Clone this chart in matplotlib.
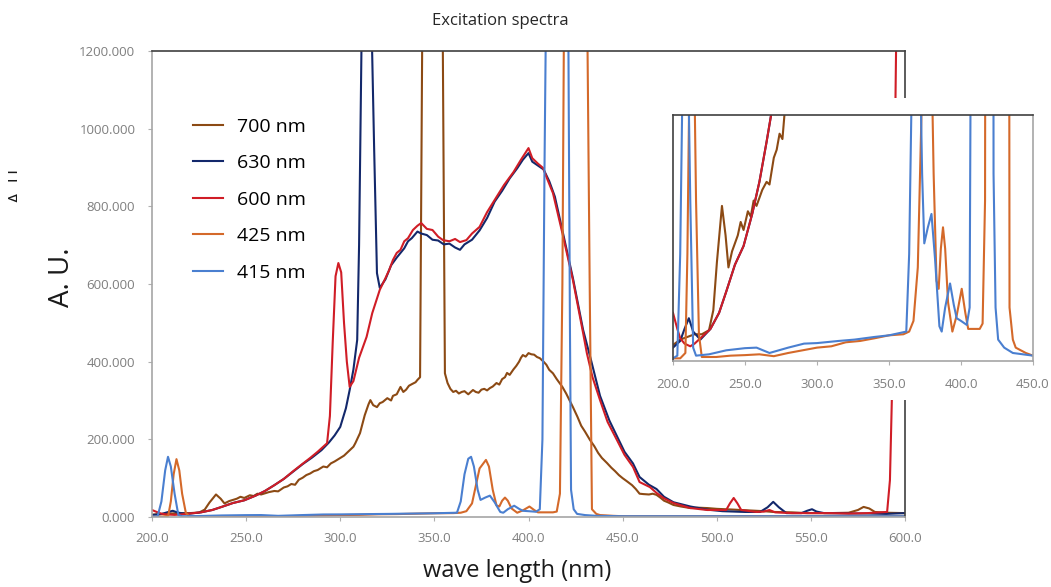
import matplotlib
matplotlib.use("Agg")
import matplotlib.pyplot as plt
from matplotlib.patches import Rectangle

plt.rcParams['font.family'] = ['Open Sans', 'DejaVu Sans']

# 700 nm emission
wl_700 = [200, 205, 210, 215, 220, 225, 228, 230.5, 234, 236.5, 238.5, 241, 243, 245, 247, 249,
          252, 254, 256, 258, 260, 262, 265, 267, 270, 272, 274, 276, 278, 280, 282, 284, 286,
          288, 291, 293, 295, 297, 300, 302, 305, 307, 308, 310.5, 313, 315, 316, 317.5, 319.5,
          321, 322.5, 324, 325, 327, 328, 330, 332, 333.5, 335, 336.5, 338, 340, 341, 342.4,
          343.5, 349, 354.5, 355.6, 357, 358.5, 360, 361.5, 363, 364.5, 366, 368, 370.5, 372,
          373.5, 375, 376.5, 378, 379.5, 381, 383, 384.5, 386, 387.5, 388.6, 390, 392, 393.5, 395,
          396, 397, 398.5, 400, 401.5, 403, 404.5, 406, 408, 409.5, 411, 413, 415, 418, 420, 423.6,
          426, 428, 430, 432.7, 435, 437, 439, 441.7, 444, 446, 448, 450, 452, 455, 457, 459, 461,
          464, 466, 468, 470, 472, 474, 477, 481, 486, 490, 495, 500, 505, 509, 513, 520, 525,
          530, 540, 548, 560, 570, 575, 578, 581, 584, 590, 600]
au_700 = [6, 8, 9, 10, 10, 11.5, 19, 37, 58, 47, 35, 41, 44, 47, 52, 49,
          56, 54, 60, 58, 61, 64, 67, 66, 76, 79, 85, 83, 96, 101, 108, 112, 118,
          121, 130, 128, 138, 143, 152, 158, 172, 181, 190, 216, 262, 290, 301, 288, 283,
          293, 296, 302, 306, 300, 312, 316, 335, 322, 328, 338, 342, 347, 353, 360,
          1200, 1600, 1200, 370, 345, 330, 322, 325, 318, 322, 324, 316, 327, 322,
          320, 328, 330, 326, 332, 336, 345, 341, 355, 360, 371, 366, 380, 389, 400,
          410, 417, 413, 422, 419, 418, 412, 409, 400, 392, 379, 370, 355, 335, 318, 283,
          258, 235, 220, 198, 182, 165, 152, 139, 127, 118, 108, 100, 93, 82, 72, 60, 59,
          58, 60, 57, 50, 42, 38, 31, 27, 23, 24, 23, 21, 20, 19, 18, 16, 15,
          13, 12, 10, 10, 11, 18, 26, 22, 13, 11, 10]

# 630 nm emission
wl_630 = [200, 205, 208, 211, 214, 219, 226, 232, 237, 243, 249, 255, 260, 265, 270, 275, 280,
          285, 290, 294, 297, 300, 303, 305, 307, 309, 310, 311.5, 314, 316.5, 318, 319.5, 321,
          324, 327, 330, 332, 334, 336, 338, 341, 343, 346, 349, 352, 355, 358, 361, 363.6, 366,
          370, 374, 378, 382, 386, 390, 394, 397, 400, 402, 405, 408, 411, 414, 418, 423.6, 429,
          433, 438, 443, 447, 451, 455.5, 459, 464, 468, 472, 477, 486, 495, 503, 515, 523, 527,
          530, 533, 537, 545, 548, 550.6, 553, 557, 570, 580, 590, 600]
au_630 = [5, 7.5, 12, 16, 11, 8, 12, 18, 26, 36, 43, 55, 67, 82, 98, 117, 136,
          153, 172, 192, 210, 232, 280, 327, 380, 456, 700, 1300, 1600, 1300, 950, 628, 590,
          612, 648, 668, 680, 692, 710, 718, 735, 730, 726, 714, 712, 702, 704, 694, 688, 702,
          714, 738, 770, 812, 840, 872, 898, 920, 937, 915, 905, 895, 865, 825, 738, 615, 482,
          408, 312, 248, 208, 168, 138, 103, 83, 72, 52, 38, 27, 19, 15, 13, 13, 25,
          39, 25, 10, 10, 16, 20, 14, 10, 9, 9, 8, 10]

# 600 nm emission
wl_600 = [200, 203, 205, 208, 212, 215, 219, 226, 232, 237, 243, 249, 255, 260, 265, 270, 275,
          280, 284, 288, 293, 294.5, 296, 297.5, 299, 300.5, 302, 303.5, 305, 307, 310, 314, 317,
          321, 324, 326, 328, 330, 332, 334, 336, 338.6, 341, 343, 346, 349, 352, 354.6, 358,
          361, 363.6, 367, 370, 374, 378, 383, 387, 392, 396, 398, 400, 402, 405, 407.7, 410,
          413, 418, 423.6, 429, 431, 434, 438, 442, 447, 451, 455.5, 459, 464.5, 468, 472, 477,
          486, 495, 505, 507, 509, 511, 513, 521, 525, 528, 531, 540, 548, 560, 570, 580, 590.5,
          592, 593, 594, 595.5, 600]
au_600 = [18, 12, 8.5, 6.5, 5.5, 6.5, 8.5, 12, 18, 26, 36, 43, 55, 67, 82, 98, 118,
          137, 152, 168, 190, 260, 450, 620, 654, 630, 500, 400, 335, 350, 410, 464, 525,
          585, 615, 636, 662, 680, 688, 710, 718, 739, 750, 757, 742, 739, 722, 713, 710,
          716, 708, 713, 730, 747, 785, 824, 855, 888, 920, 935, 950, 924, 910, 899, 870,
          834, 731, 610, 474, 422, 360, 301, 245, 198, 160, 129, 90, 77, 62, 48, 36,
          23, 18, 18, 35, 49, 35, 18, 13, 14, 18, 12, 10, 10, 10, 9, 10, 13,
          95, 300, 700, 1300, 1900]

# 425 nm emission
wl_425 = [200, 205, 208.6, 210, 211.5, 213, 214.5, 216, 218, 220, 230, 240, 250, 260, 270, 280,
          290, 300, 310, 320, 330, 340, 350, 360, 364, 367, 370, 372, 374, 377.4, 379, 381, 383,
          384.5, 386, 387.5, 389, 391, 394, 397, 400.5, 403, 405, 410, 413, 415, 416.7, 418, 419,
          425, 431, 432.5, 433.7, 436, 438, 445, 450, 500, 550, 600]
au_425 = [1, 1, 3, 40, 110, 149, 120, 60, 10, 1.5, 1.5, 2, 2.2, 2.5, 1.8, 3,
          4, 5, 5.5, 7, 7.5, 8.5, 9.6, 10, 11, 15, 35, 80, 125, 147, 130, 70, 30,
          27, 42, 50, 42, 22, 11, 17, 27, 18, 12, 12, 12, 14, 60, 600, 1400,
          1800, 1400, 600, 20, 8, 5, 3, 2, 2, 2, 2]

# 415 nm emission
wl_415 = [200, 203, 205, 207, 208.5, 210, 212, 214, 216, 225, 237, 250, 258, 267, 280, 291, 300,
          315, 326, 340, 350, 362, 364, 366, 368, 369.5, 371, 373, 374.5, 377, 379.5, 382, 385,
          386.6, 389, 392.4, 395, 397, 400, 404, 406, 407.4, 408.5, 409.5, 415, 421, 422, 422.6,
          424, 425.8, 430, 436, 450, 500, 600]
au_415 = [1, 2, 40, 120, 155, 130, 60, 5, 2, 2.5, 4, 4.8, 5, 3, 5, 6.5, 6.7,
          7.5, 8, 9, 9.6, 11, 40, 110, 150, 155, 130, 70, 44, 50, 55, 38, 13,
          11, 20, 29, 21, 16, 15, 13.5, 20, 200, 900, 1400, 1800, 1400, 500, 70,
          20, 8, 5, 3, 2, 2, 2]

series = [
    ('700 nm', wl_700, au_700, '#8c4a14'),
    ('630 nm', wl_630, au_630, '#13286b'),
    ('600 nm', wl_600, au_600, '#d01d26'),
    ('425 nm', wl_425, au_425, '#d4692a'),
    ('415 nm', wl_415, au_415, '#4a7fd0'),
]
x_ticks = [200, 250, 300, 350, 400, 450, 500, 550, 600]
y_ticks = [0, 200, 400, 600, 800, 1000, 1200]
inset_ticks = [200, 250, 300, 350, 400, 450]

W, H = 1051, 587
fig = plt.figure(figsize=(W / 100, H / 100), dpi=100)
fig.patch.set_facecolor('white')

def px(x0, y0, x1, y1):
    # pixel box (top-left origin) -> figure fraction rect
    return [x0 / W, 1 - y1 / H, (x1 - x0) / W, (y1 - y0) / H]

dark = '#404040'

ax = fig.add_axes(px(152, 51, 905, 517))
for name, wl, au, col in series:
    ax.plot(wl, au, color=col, lw=1.5, label=name)
ax.set_xlim(200, 600)
ax.set_ylim(0, 1200)
ax.set_xticks(x_ticks)
ax.set_xticklabels(['%.1f' % v for v in x_ticks])
ax.set_yticks(y_ticks)
ax.set_yticklabels(['%.3f' % v for v in y_ticks])
ax.tick_params(axis='both', labelsize=9.5, labelcolor='#7f7f7f', color='#b0b0b0', length=3, width=0.8)
ax.tick_params(axis='y', pad=9)
ax.tick_params(axis='x', pad=8)
ax.spines['left'].set_color('#a6a6a6')
ax.spines['bottom'].set_color('#a6a6a6')
ax.spines['top'].set_color(dark)
ax.spines['right'].set_color(dark)
for s in ax.spines.values():
    s.set_linewidth(1.2)

ax.legend(loc='upper left', bbox_to_anchor=(0.055, 0.857), frameon=False, fontsize=14,
          handlelength=1.5, handletextpad=0.75, labelspacing=0.95, borderaxespad=0, borderpad=0)

# white box behind the inset (hides part of the main frame)
fig.add_artist(Rectangle((655 / W, 1 - 400 / H), (W - 655) / W, 302 / H, transform=fig.transFigure,
                         facecolor='white', edgecolor='none', zorder=1))

ins = fig.add_axes(px(673, 115, 1033, 361), zorder=2)
for name, wl, au, col in series:
    ins.plot(wl, au, color=col, lw=1.5)
ins.set_xlim(200, 450)
ins.set_ylim(0, 92)
ins.set_yticks([])
ins.set_xticks(inset_ticks)
ins.set_xticklabels(['%.1f' % v for v in inset_ticks])
ins.tick_params(axis='x', labelsize=9.5, labelcolor='#7f7f7f', color='#b0b0b0', length=3, pad=9)
ins.spines['left'].set_color(dark)
ins.spines['top'].set_color(dark)
ins.spines['bottom'].set_color('#a6a6a6')
ins.spines['right'].set_color('#a6a6a6')
for s in ins.spines.values():
    s.set_linewidth(1.2)

fig.text(500 / W, 1 - 21 / H, 'Excitation spectra', ha='center', va='center', fontsize=12, color='#262626')
fig.text(62 / W, 1 - 277 / H, 'A. U.', ha='center', va='center', rotation=90, fontsize=20, color='#1a1a1a')
fig.text(517 / W, 1 - 571 / H, 'wave length (nm)', ha='center', va='center', fontsize=17, color='#1a1a1a')

# cut-off copy of the axis title at the far left, only its top edge shows
fig.text(8 / W, 1 - 184 / H, 'A. U.', ha='left', va='center', rotation=90, fontsize=13, color='#1a1a1a')
fig.add_artist(Rectangle((17 / W, 1 - 215 / H), 25 / W, 65 / H, transform=fig.transFigure,
                         facecolor='white', edgecolor='none', zorder=5))

fig.savefig('out.png', dpi=100)
